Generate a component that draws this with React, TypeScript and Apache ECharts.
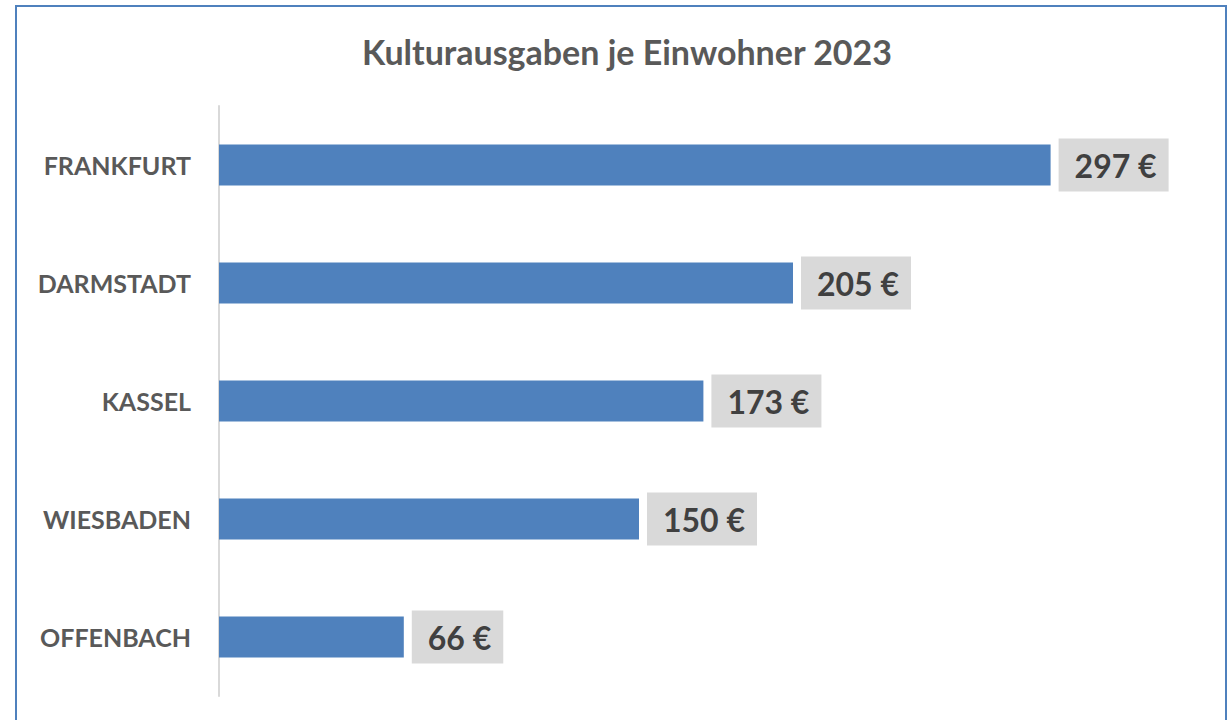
import React, { useEffect, useRef } from "react";
import * as echarts from "echarts";

const title = "Kulturausgaben je Einwohner 2023";
const cities = ["FRANKFURT", "DARMSTADT", "KASSEL", "WIESBADEN", "OFFENBACH"];
const values = [297, 205, 173, 150, 66];

const FONT = "Lato, 'Liberation Sans', sans-serif";

export default function App() {
  const ref = useRef<HTMLDivElement>(null);
  useEffect(() => {
    const chart = echarts.init(ref.current!, null, { renderer: "svg" });
    chart.setOption({
      animation: false,
      backgroundColor: "#ffffff",
      title: {
        text: title,
        left: 622,
        textAlign: "center",
        top: 29,
        textStyle: { fontFamily: FONT, fontWeight: "bold", fontSize: 34, color: "#595959" },
      },
      graphic: [
        {
          type: "rect",
          shape: { x: 16, y: 6, width: 1210, height: 740 },
          style: { fill: "none", stroke: "#4f81bd", lineWidth: 2 },
          silent: true,
        },
      ],
      grid: { left: 219, top: 106, right: 28, bottom: 24, containLabel: false },
      xAxis: {
        type: "value",
        min: 0,
        max: 350,
        show: false,
        splitLine: { show: false },
      },
      yAxis: {
        type: "category",
        data: cities,
        inverse: true,
        axisLine: { show: true, lineStyle: { color: "#d9d9d9", width: 2 } },
        axisTick: { show: false },
        axisLabel: {
          margin: 28,
          fontFamily: FONT,
          fontWeight: "bold",
          fontSize: 25,
          color: "#595959",
        },
      },
      series: [
        {
          type: "bar",
          data: values,
          barWidth: 41,
          itemStyle: { color: "#4f81bd" },
          label: {
            show: true,
            position: "right",
            distance: 8,
            formatter: "{c} €",
            backgroundColor: "#d9d9d9",
            padding: [8, 12, 7, 16],
            lineHeight: 38,
            fontFamily: FONT,
            fontWeight: "bold",
            fontSize: 32,
            color: "#404040",
          },
        },
      ],
    });
    return () => chart.dispose();
  }, []);
  return (
    <div
      ref={ref}
      style={{ position: "fixed", left: 0, top: 0, width: 1227, height: 720 }}
    />
  );
}
